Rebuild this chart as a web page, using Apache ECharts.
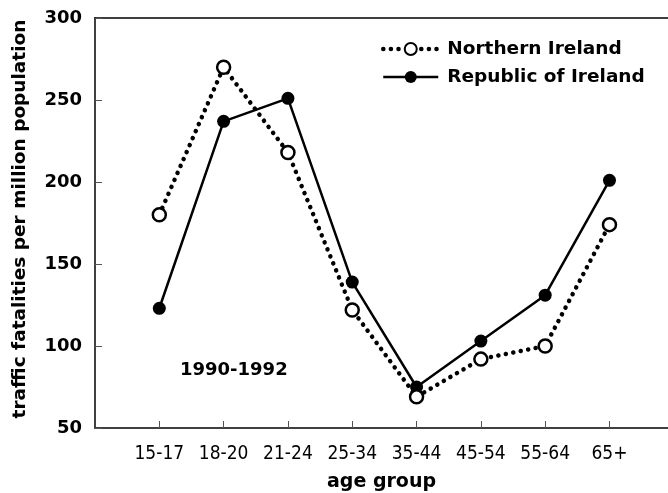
<!DOCTYPE html>
<html>
<head>
<meta charset="utf-8">
<script src="https://cdn.jsdelivr.net/npm/echarts@6/dist/echarts.min.js"></script>
<style>
  html, body { margin: 0; padding: 0; background: #fff; }
  #main { width: 668px; height: 493px; }
</style>
</head>
<body>
<div id="main"></div>
<script type="text/javascript">
// age groups along the x axis
var ageGroups = ['15-17', '18-20', '21-24', '25-34', '35-44', '45-54', '55-64', '65+'];
// traffic fatalities per million population, 1990-1992
var northernIreland = [180, 270, 218, 122, 69, 92, 100, 174];
var republicOfIreland = [123, 237, 251, 139, 75, 103, 131, 201];

var boldFont = 'DejaVu Sans';
var narrowFont = "'DejaVu Sans Condensed', 'Liberation Sans Narrow', sans-serif";

function toPoints(values) {
    return values.map(function (v, i) { return [i + 1, v]; });
}
var positions = ageGroups.map(function (g, i) { return i + 1; });

var myChart = echarts.init(document.getElementById('main'));

var dottedLine = { color: '#000', width: 4.5, type: [0.1, 7.5], cap: 'round' };
var solidLine = { color: '#000', width: 2.5 };

var option = {
    animation: false,
    backgroundColor: '#fff',
    grid: { left: 95, right: 0, top: 18, bottom: 65, outerBoundsMode: 'none' },
    legend: {
        left: 376,
        top: 34,
        orient: 'vertical',
        itemWidth: 55,
        itemHeight: 15,
        itemGap: 8,
        textStyle: {
            fontFamily: boldFont, fontWeight: 'bold', fontSize: 18.5,
            color: '#000', lineHeight: 20, padding: [0, 0, 0, 4]
        },
        data: [
            { name: 'Northern Ireland', lineStyle: dottedLine },
            { name: 'Republic of Ireland', lineStyle: solidLine }
        ]
    },
    xAxis: [{
        type: 'value',
        min: 0,
        max: 8.91,
        splitLine: { show: false },
        axisLine: { lineStyle: { color: '#404040', width: 2 } },
        axisTick: { inside: true, length: 7, customValues: positions, lineStyle: { color: '#555', width: 1 } },
        axisLabel: {
            customValues: positions,
            margin: 17,
            fontFamily: narrowFont, fontSize: 19, color: '#000',
            formatter: function (v) { return ageGroups[v - 1] || ''; }
        },
        name: 'age group',
        nameLocation: 'middle',
        nameGap: 45,
        nameTextStyle: { fontFamily: boldFont, fontWeight: 'bold', fontSize: 19, color: '#000' }
    }, {
        type: 'value',
        position: 'top',
        min: 0,
        max: 8.91,
        splitLine: { show: false },
        axisLine: { onZero: false, lineStyle: { color: '#000', width: 1.5 } },
        axisTick: { show: false },
        axisLabel: { show: false }
    }],
    yAxis: {
        type: 'value',
        min: 50,
        max: 300,
        interval: 50,
        splitLine: { show: false },
        axisLine: { show: true, lineStyle: { color: '#404040', width: 2 } },
        axisTick: { show: true, inside: true, length: 7, lineStyle: { color: '#555', width: 1 } },
        axisLabel: {
            margin: 13,
            fontFamily: boldFont, fontWeight: 'bold', fontSize: 18, color: '#000'
        },
        name: 'traffic fatalities per million population',
        nameLocation: 'middle',
        nameGap: 65,
        nameTextStyle: {
            fontFamily: boldFont, fontWeight: 'bold', fontSize: 18.5, color: '#000',
            padding: [0, 0, 0, 8]
        }
    },
    graphic: [{
        type: 'text',
        left: 180,
        top: 361,
        style: {
            text: '1990-1992',
            font: 'bold 18px "DejaVu Sans"',
            fill: '#000'
        }
    }],
    series: [{
        name: 'Northern Ireland',
        type: 'line',
        z: 3,
        data: toPoints(northernIreland),
        symbol: 'circle',
        symbolSize: 13,
        itemStyle: { color: '#fff', borderColor: '#000', borderWidth: 2.5 },
        lineStyle: dottedLine
    }, {
        name: 'Republic of Ireland',
        type: 'line',
        z: 2,
        data: toPoints(republicOfIreland),
        symbol: 'circle',
        symbolSize: 13,
        itemStyle: { color: '#000' },
        lineStyle: solidLine
    }]
};

myChart.setOption(option);
</script>
</body>
</html>
